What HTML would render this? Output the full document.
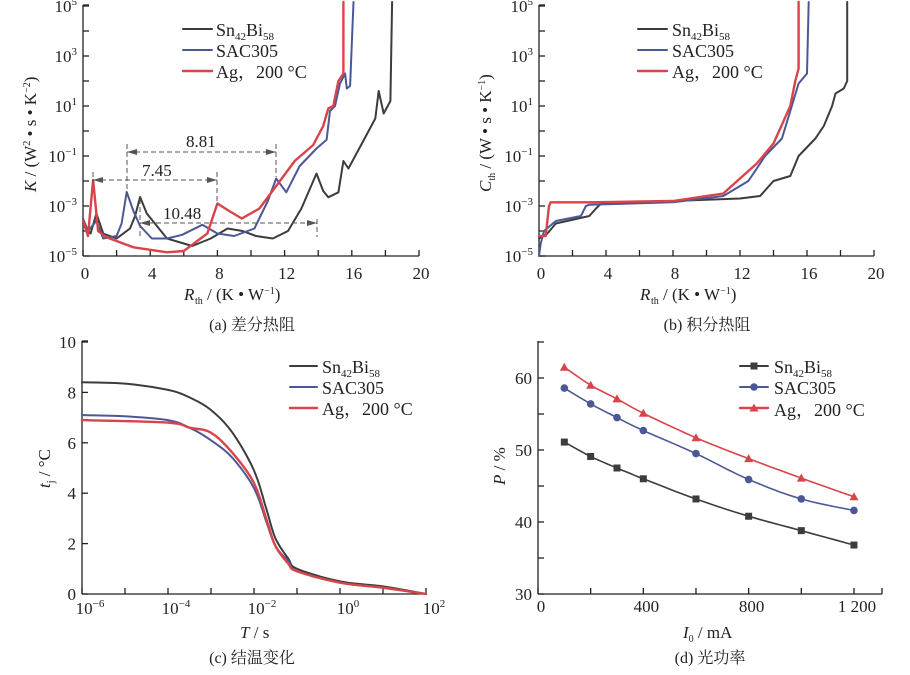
<!DOCTYPE html>
<html><head><meta charset="utf-8"><style>
body{margin:0;background:#fff;}
svg{display:block;font-family:"Liberation Serif","Noto Serif CJK SC",serif;}
.t{font-size:17px;fill:#222}
.lg{font-size:18px;fill:#222;font-family:"Liberation Serif","Noto Serif CJK SC",serif}
.cap{font-size:16px;fill:#222}
</style></head><body>
<svg id="s" width="910" height="675" viewBox="0 0 910 675" xmlns="http://www.w3.org/2000/svg">
<g stroke="#222" stroke-width="1.3" fill="none" id="axes"></g>
<g id="curves" fill="none" stroke-linejoin="round" stroke-linecap="round"></g>
<g id="ann" stroke="#555" stroke-width="1" stroke-dasharray="5,3" fill="none">
<line x1="93" y1="172" x2="93" y2="183"/><line x1="127" y1="144" x2="127" y2="196"/>
<line x1="140" y1="199" x2="140" y2="237"/><line x1="217" y1="172" x2="217" y2="205"/>
<line x1="276" y1="144" x2="276" y2="177"/><line x1="317" y1="219" x2="317" y2="237"/>
<line x1="127" y1="152" x2="276" y2="152"/><line x1="93" y1="180" x2="217" y2="180"/>
<line x1="140" y1="223" x2="317" y2="223"/>
</g>
<g fill="#555">
<polygon points="127,152 137,149 137,155"/><polygon points="276,152 266,149 266,155"/>
<polygon points="93,180 103,177 103,183"/><polygon points="217,180 207,177 207,183"/>
<polygon points="140,223 150,220 150,226"/><polygon points="317,223 307,220 307,226"/>
</g>
<g class="t">
<text x="186" y="147">8.81</text><text x="142" y="176">7.45</text><text x="163" y="219">10.48</text>
</g>
<g id="labels" class="t"></g>
<g class="lg">
<text x="216" y="36">Sn<tspan font-size="11" dy="4">42</tspan><tspan dy="-4">Bi</tspan><tspan font-size="11" dy="4">58</tspan></text>
<text x="216" y="57">SAC305</text><text x="216" y="78">Ag，200 °C</text>
<text x="672" y="36">Sn<tspan font-size="11" dy="4">42</tspan><tspan dy="-4">Bi</tspan><tspan font-size="11" dy="4">58</tspan></text>
<text x="672" y="57">SAC305</text><text x="672" y="78">Ag，200 °C</text>
<text x="322" y="373">Sn<tspan font-size="11" dy="4">42</tspan><tspan dy="-4">Bi</tspan><tspan font-size="11" dy="4">58</tspan></text>
<text x="322" y="394">SAC305</text><text x="322" y="415">Ag，200 °C</text>
<text x="774" y="373">Sn<tspan font-size="11" dy="4">42</tspan><tspan dy="-4">Bi</tspan><tspan font-size="11" dy="4">58</tspan></text>
<text x="774" y="394">SAC305</text><text x="774" y="416">Ag，200 °C</text>
</g>
<g class="t">
<text x="184" y="300" font-style="italic">R</text><text x="195" y="304" font-size="10">th</text><text x="207" y="300"> / (K • W<tspan font-size="10" dy="-6">−1</tspan><tspan dy="6">)</tspan></text>
<text x="640" y="300" font-style="italic">R</text><text x="651" y="304" font-size="10">th</text><text x="663" y="300"> / (K • W<tspan font-size="10" dy="-6">−1</tspan><tspan dy="6">)</tspan></text>
<text transform="translate(36,192) rotate(-90)"><tspan font-style="italic">K</tspan> / (W<tspan font-size="10" dy="-6">2</tspan><tspan dy="6"> • s • K</tspan><tspan font-size="10" dy="-6">−2</tspan><tspan dy="6">)</tspan></text>
<text transform="translate(491,192) rotate(-90)"><tspan font-style="italic">C</tspan><tspan font-size="10" dy="4">th</tspan><tspan dy="-4"> / (W • s • K</tspan><tspan font-size="10" dy="-6">−1</tspan><tspan dy="6">)</tspan></text>
<text x="240" y="638"><tspan font-style="italic">T</tspan> / s</text>
<text x="683" y="638"><tspan font-style="italic">I</tspan><tspan font-size="10" dy="4">0</tspan><tspan dy="-4"> / mA</tspan></text>
<text transform="translate(50,488) rotate(-90)"><tspan font-style="italic">t</tspan><tspan font-size="10" dy="4">j</tspan><tspan dy="-4"> / °C</tspan></text>
<text transform="translate(505,485) rotate(-90)"><tspan font-style="italic">P</tspan> / %</text>
</g>
<g class="cap" text-anchor="middle">
<text x="252" y="330">(a) 差分热阻</text><text x="707" y="330">(b) 积分热阻</text>
<text x="252" y="663">(c) 结温变化</text><text x="710" y="663">(d) 光功率</text>
</g>
</svg>
<script>
var NS="http://www.w3.org/2000/svg",ax=document.getElementById('axes'),cv=document.getElementById('curves'),lb=document.getElementById('labels');
function el(p,t,a,txt){var e=document.createElementNS(NS,t);for(var k in a)e.setAttribute(k,a[k]);if(txt!=null)e.innerHTML=txt;p.appendChild(e);return e;}
function line(x1,y1,x2,y2,p){el(p||ax,'line',{x1:x1,y1:y1,x2:x2,y2:y2});}
function txt(x,y,s,anc){el(lb,'text',{x:x,y:y,'text-anchor':anc||'middle'},s);}
var C={k:'#3c3c3c',b:'#4b5896',r:'#d9434a'};
function logPanel(x0,sx){
  line(x0,5,x0,256);line(x0,256,x0+20*sx,256);
  for(var i=0;i<=10;i++){var x=x0+i*2*sx;line(x,256,x,250);}
  for(var d=-5;d<=5;d++){var y=256-25*(d+5);line(x0,y,x0+6,y);}
  line(x0,5,x0+6,5);
  for(var i=0;i<=20;i+=4)txt(x0+i*sx+2,279,i);
  for(var d=-5;d<=5;d+=2){var y=256-25*(d+5);el(lb,'text',{x:x0-6,y:y+6,'text-anchor':'end'},'10<tspan font-size="11" dy="-7">'+(d<0?'−'+(-d):d)+'</tspan>');}
}
logPanel(83,16.8);logPanel(539,16.75);
function smooth(P){var out=[];for(var i=0;i<P.length-1;i++){var p0=P[Math.max(0,i-1)],p1=P[i],p2=P[i+1],p3=P[Math.min(P.length-1,i+2)];
 for(var t=0;t<1;t+=0.2){var t2=t*t,t3=t2*t;out.push([0,1].map(function(k){return 0.5*((2*p1[k])+(-p0[k]+p2[k])*t+(2*p0[k]-5*p1[k]+4*p2[k]-p3[k])*t2+(-p0[k]+3*p1[k]-3*p2[k]+p3[k])*t3);}));}}
 out.push(P[P.length-1]);return out;}
function draw(pts,fx,fy,col,w,sm){var P=pts.map(function(p){return [fx(p[0]),fy(p[1])];});if(sm)P=smooth(P);
  var d=P.map(function(p,i){return (i?'L':'M')+p[0].toFixed(1)+','+p[1].toFixed(1);}).join(' ');
  el(cv,'path',{d:d,stroke:col,'stroke-width':w||2});}
var ax1=function(x){return 83+16.8*x},ay=function(l){return Math.max(2,256-25*(l+5))};
draw([[0,-3.7],[0.2,-3.9],[0.45,-4.1],[0.8,-3.3],[1.2,-4.1],[2,-4.3],[2.8,-3.9],[3.1,-3.4],[3.4,-2.64],[3.8,-3.3],[5,-4.3],[6.5,-4.6],[7.6,-4.3],[8.6,-3.9],[9.5,-4.0],[10.3,-4.2],[11.3,-4.3],[12.2,-4.0],[13,-3.1],[13.9,-1.7],[14.3,-2.4],[14.6,-2.65],[15.2,-2.45],[15.5,-1.2],[15.8,-1.5],[16.2,-1.0],[17,0],[17.4,0.5],[17.6,1.6],[17.9,0.7],[18.3,1.2],[18.4,5.3]],ax1,ay,C.k);
draw([[0,-3.5],[0.3,-4],[0.8,-3.6],[1.2,-4.3],[2,-4.2],[2.3,-3.7],[2.6,-2.44],[3,-3.2],[3.4,-3.8],[4.1,-4.3],[5,-4.3],[5.9,-4.15],[7.1,-3.75],[8,-4.1],[9,-4.2],[10.2,-3.9],[11,-2.8],[11.5,-1.9],[12.1,-2.45],[12.9,-1.4],[13.9,-0.7],[14.5,-0.35],[14.7,0.8],[15,1.0],[15.3,1.9],[15.6,2.3],[15.7,1.7],[15.9,1.8],[16.1,5.3]],ax1,ay,C.b);
draw([[0,-3.6],[0.3,-4.2],[0.6,-1.96],[0.9,-4],[1.4,-4.25],[3,-4.65],[5,-4.85],[6,-4.8],[7.4,-4.1],[8,-2.9],[8.7,-3.2],[9.45,-3.5],[10.5,-3.1],[11.5,-2.2],[12.6,-1.2],[13.7,-0.56],[14.3,0.2],[14.6,0.9],[14.9,1.0],[15.2,2.0],[15.5,2.3],[15.5,5.3]],ax1,ay,C.r,2.4);
var bx=function(x){return 539+16.75*x};
draw([[0,-4.3],[0.5,-4.1],[1,-3.7],[3,-3.4],[3.4,-3.1],[3.7,-2.9],[8,-2.8],[12,-2.7],[13.2,-2.6],[14,-2],[15,-1.8],[15.5,-1],[16.5,-0.3],[17,0.2],[17.5,1],[17.7,1.5],[18.2,1.7],[18.4,2],[18.4,5.3]],bx,ay,C.k);
draw([[0,-5],[0.1,-4.5],[0.3,-4],[1,-3.6],[2.5,-3.4],[2.8,-3],[3,-2.95],[8,-2.85],[11,-2.6],[12.5,-2],[13.5,-1],[14.5,-0.3],[15,0.8],[15.5,1.9],[16,2.3],[16.1,5.3]],bx,ay,C.b);
draw([[0,-4.2],[0.4,-4.2],[0.6,-3],[0.7,-2.85],[3,-2.85],[8,-2.8],[10,-2.6],[11,-2.5],[12,-1.9],[13,-1.3],[14,-0.5],[15,1],[15.3,2],[15.5,2.5],[15.5,5.3]],bx,ay,C.r,2.4);
[[183,212,29],[638,667,29],[290,317,366],[740,768,366]].forEach(function(g){
  el(cv,'line',{x1:g[0],y1:g[2],x2:g[1],y2:g[2],stroke:C.k,'stroke-width':2});
  el(cv,'line',{x1:g[0],y1:g[2]+21,x2:g[1],y2:g[2]+21,stroke:C.b,'stroke-width':2});
  el(cv,'line',{x1:g[0],y1:g[2]+42,x2:g[1],y2:g[2]+42,stroke:C.r,'stroke-width':2.4});
});
line(82,341,82,594);line(82,594,425,594);line(82,341,88,341);
for(var d=0;d<=8;d++){var x=82+43*d;line(x,594,x,588);}
for(var t=0;t<=10;t+=2){var y=594-25.2*t;line(82,y,88,y);el(lb,'text',{x:76,y:y+6,'text-anchor':'end'},t);}
for(var d=-6;d<=2;d+=2){el(lb,'text',{x:90+43*(d+6),y:614,'text-anchor':'middle'},'10<tspan font-size="11" dy="-7">'+(d<0?'−'+(-d):d)+'</tspan>');}
var cx=function(l){return 82+43*(l+6)},cy=function(t){return 594-25.2*t};
draw([[-6,8.4],[-5,8.35],[-4,8.1],[-3.5,7.8],[-3,7.3],[-2.5,6.4],[-2,4.9],[-1.7,3.3],[-1.5,2.2],[-1.2,1.4],[-1,1],[0,0.5],[1,0.3],[2,0]],cx,cy,C.k,2,1);
draw([[-6,7.1],[-5,7.05],[-4,6.9],[-3.5,6.6],[-3,6.1],[-2.5,5.4],[-2,4.2],[-1.7,2.8],[-1.5,1.9],[-1.2,1.3],[-1,0.9],[0,0.45],[1,0.25],[2,0]],cx,cy,C.b,2,1);
draw([[-6,6.9],[-4,6.8],[-3.5,6.6],[-3,6.4],[-2.5,5.6],[-2,4.4],[-1.7,2.9],[-1.5,1.9],[-1.2,1.2],[-1,0.9],[0,0.45],[1,0.25],[2,0]],cx,cy,C.r,2.4,1);
line(538,341,538,594);line(538,594,882,594);line(882,594,882,588);
for(var v=0;v<=1200;v+=200){var x=538+0.2633*v;line(x,594,x,588);}
[[0,'0'],[400,'400'],[800,'800'],[1200,'1 200']].forEach(function(a){txt(541+0.2633*a[0],612,a[1]);});
for(var p=30;p<=65;p+=5){var y=594-7.2*(p-30);line(538,y,544,y);}
for(var p=30;p<=60;p+=10){el(lb,'text',{x:532,y:594-7.2*(p-30)+6,'text-anchor':'end'},p);}
var xs=[100,200,300,400,600,800,1000,1200];
var dx=function(v){return 538+0.2633*v},dy=function(p){return 594-7.2*(p-30)};
var S=[[51.1,49.1,47.5,46,43.2,40.8,38.8,36.8],[58.6,56.4,54.5,52.7,49.5,45.9,43.2,41.6],[61.5,59.0,57.1,55.1,51.7,48.8,46.1,43.5]];
var cols=[C.k,C.b,C.r];
S.forEach(function(s,k){draw(xs.map(function(x,i){return [x,s[i]]}),dx,dy,cols[k],1.6,1);
  xs.forEach(function(x,i){var X=dx(x),Y=dy(s[i]);
    if(k==0)el(cv,'rect',{x:X-3.5,y:Y-3.5,width:7,height:7,fill:cols[k]});
    else if(k==1)el(cv,'circle',{cx:X,cy:Y,r:3.8,fill:cols[k]});
    else el(cv,'polygon',{points:(X)+','+(Y-4.5)+' '+(X-4.5)+','+(Y+3.5)+' '+(X+4.5)+','+(Y+3.5),fill:cols[k]});});});
el(cv,'rect',{x:750.5,y:362.5,width:7,height:7,fill:C.k});
el(cv,'circle',{cx:754,cy:387,r:3.8,fill:C.b});
el(cv,'polygon',{points:'754,403.5 749.5,411.5 758.5,411.5',fill:C.r});
</script>
</body></html>
